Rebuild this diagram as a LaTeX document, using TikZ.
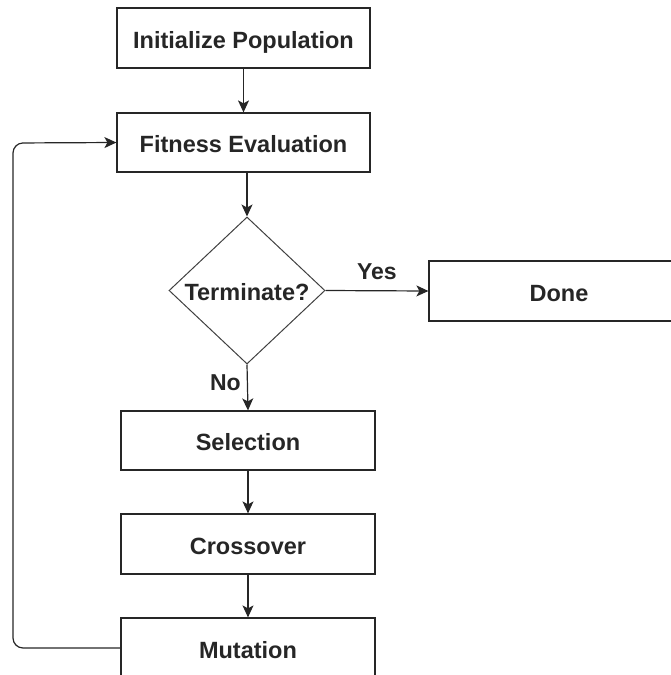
\documentclass[tikz,border=0pt]{standalone}
\usepackage{fontspec}
\setmainfont{Liberation Sans}
\usetikzlibrary{shapes.geometric,arrows.meta}
\begin{document}
\begin{tikzpicture}[x=1pt,y=-1pt,
  box/.style={draw=black!85,line width=1.2pt,rectangle,inner sep=0pt,text height=20pt,text depth=0pt,font=\fontsize{23.5}{27}\selectfont\bfseries,text=black!85},
  dec/.style={draw=black!75,line width=1pt,diamond,inner sep=0pt,text height=20pt,text depth=0pt,minimum width=156pt,minimum height=147pt,font=\fontsize{23.5}{27}\selectfont\bfseries,text=black!85},
  lbl/.style={font=\fontsize{23}{27}\selectfont\bfseries,text=black!85,inner sep=0pt},
  conn/.style={draw=black!85,line width=1.2pt},
  arr/.style={conn,-{Stealth[length=12pt,width=11pt,inset=3pt]}}]
\useasboundingbox (0,0) rectangle (671,675);
\clip (0,0) rectangle (671,675);
\node[box,minimum width=253pt,minimum height=60pt] (init) at (243.5,38) {Initialize Population};
\node[box,minimum width=253pt,minimum height=59pt] (fit) at (243.5,142.5) {Fitness Evaluation};
\node[dec] (dia) at (247,290.5) {Terminate?};
\node[box,minimum width=260pt,minimum height=60pt] (done) at (559,291) {Done};
\node[box,minimum width=254pt,minimum height=59pt] (sel) at (248,440.5) {Selection};
\node[box,minimum width=254pt,minimum height=60pt] (cro) at (248,544) {Crossover};
\node[box,minimum width=254pt,minimum height=60pt] (mut) at (248,648) {Mutation};
\coordinate (lb) at (13,648);
\coordinate (lt) at (13,143);
\draw[arr] (init.south) -- (fit.north);
\draw[arr] (dia.north |- fit.south) -- (dia.north);
\draw[arr] (dia.east) -- node[lbl,above=10pt] (yes) {Yes} (done.west);
\draw[arr] (dia.south) -- node[lbl,left=6pt,pos=0.4] (no) {No} (sel.north);
\draw[arr] (sel.south) -- (cro.north);
\draw[arr] (cro.south) -- (mut.north);
\draw[arr,rounded corners=10pt] (mut.west) -- (lb) -- (lt) -- (fit.west);
\end{tikzpicture}
\end{document}
